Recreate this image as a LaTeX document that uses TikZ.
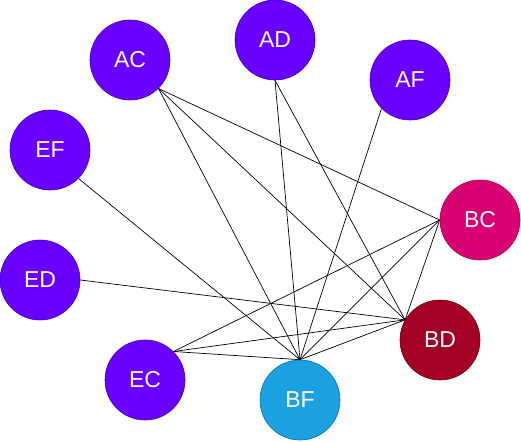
\documentclass[tikz,border=0pt]{standalone}
\usepackage{fontspec}
\setmainfont{Liberation Sans}
\definecolor{vio}{HTML}{6A00FF}
\definecolor{viostroke}{HTML}{3700CC}
\definecolor{mag}{HTML}{D80073}
\definecolor{magstroke}{HTML}{A50040}
\definecolor{crim}{HTML}{A20025}
\definecolor{crimstroke}{HTML}{6F0000}
\definecolor{blu}{HTML}{1BA1E2}
\definecolor{blustroke}{HTML}{006EAF}
\tikzset{
  vnode/.style={circle, minimum size=80pt, inner sep=0pt, text=white, font=\fontsize{23}{23}\selectfont, line width=0.6pt},
  edge/.style={draw=black, line width=0.7pt}
}
\begin{document}
\begin{tikzpicture}[x=1pt,y=-1pt]
\useasboundingbox (0,0) rectangle (521,441);
\node[vnode, fill=vio, draw=viostroke] (AC) at (130,60) {AC};
\node[vnode, fill=vio, draw=viostroke] (AD) at (275,40) {AD};
\node[vnode, fill=vio, draw=viostroke] (AF) at (410,80) {AF};
\node[vnode, fill=vio, draw=viostroke] (EF) at (50,150) {EF};
\node[vnode, fill=mag, draw=magstroke] (BC) at (480,220) {BC};
\node[vnode, fill=vio, draw=viostroke] (ED) at (40,280) {ED};
\node[vnode, fill=crim, draw=crimstroke] (BD) at (440,340) {BD};
\node[vnode, fill=vio, draw=viostroke] (EC) at (145,380) {EC};
\node[vnode, fill=blu, draw=blustroke] (BF) at (300,400) {BF};
% edges
\draw[edge] (AC.-45) -- (BC.west);
\draw[edge] (AC.-45) -- (BF.north);
\draw[edge] (AC.-45) -- (BD.150);
\draw[edge] (AD.south) -- (BF.north);
\draw[edge] (AD.south) -- (BD.150);
\draw[edge] (AF.-135) -- (BF.north);
\draw[edge] (EF.-45) -- (BF.north);
\draw[edge] (ED.east) -- (BD.150);
\draw[edge] (EC.45) -- (BC.west);
\draw[edge] (EC.45) -- (BD.150);
\draw[edge] (EC.45) -- (BF.north);
\draw[edge] (BC.west) -- (BF.north);
\draw[edge] (BC.west) -- (BD.150);
\draw[edge] (BD.150) -- (BF.north);
\end{tikzpicture}
\end{document}
